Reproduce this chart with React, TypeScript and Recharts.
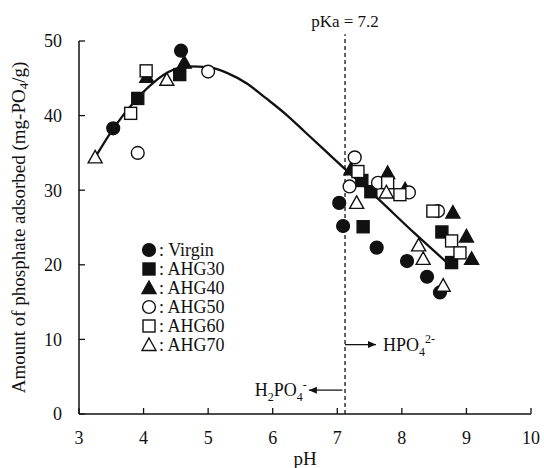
import React from "react";
import {
  ComposedChart,
  Scatter,
  Line,
  XAxis,
  YAxis,
  ReferenceLine,
  ReferenceDot,
  Label,
  Legend,
} from "recharts";

// pH vs adsorbed amount
const virgin = [
  { x: 3.53, y: 38.3 }, { x: 4.58, y: 48.7 }, { x: 7.03, y: 28.3 }, { x: 7.09, y: 25.2 },
  { x: 7.61, y: 22.3 }, { x: 8.08, y: 20.5 }, { x: 8.39, y: 18.4 }, { x: 8.59, y: 16.3 },
];
const ahg30 = [
  { x: 3.91, y: 42.3 }, { x: 4.56, y: 45.5 }, { x: 7.38, y: 31.3 }, { x: 7.52, y: 29.8 },
  { x: 7.4, y: 25.1 }, { x: 8.62, y: 24.4 }, { x: 8.77, y: 20.3 },
];
const ahg40 = [
  { x: 4.05, y: 45.2 }, { x: 4.63, y: 47.1 }, { x: 7.21, y: 32.8 }, { x: 7.78, y: 32.3 },
  { x: 8.05, y: 30.1 }, { x: 8.79, y: 27.0 }, { x: 9.0, y: 23.8 }, { x: 9.08, y: 20.8 },
];
const ahg50 = [
  { x: 3.91, y: 35.0 }, { x: 5.0, y: 45.9 }, { x: 7.27, y: 34.4 }, { x: 7.19, y: 30.5 },
  { x: 7.63, y: 31.0 }, { x: 8.11, y: 29.7 }, { x: 8.56, y: 27.2 },
];
const ahg60 = [
  { x: 3.8, y: 40.3 }, { x: 4.04, y: 46.0 }, { x: 7.32, y: 32.5 }, { x: 7.78, y: 31.0 },
  { x: 7.97, y: 29.4 }, { x: 8.48, y: 27.2 }, { x: 8.77, y: 23.2 }, { x: 8.9, y: 21.6 },
];
const ahg70 = [
  { x: 3.25, y: 34.4 }, { x: 4.36, y: 44.8 }, { x: 7.3, y: 28.3 }, { x: 7.76, y: 29.7 },
  { x: 8.26, y: 22.6 }, { x: 8.33, y: 20.8 }, { x: 8.64, y: 17.2 },
];

// fitted trend line
const fitCurve = [
  { x: 3.25, y: 34.4 }, { x: 3.55, y: 38.5 }, { x: 3.9, y: 42.3 }, { x: 4.15, y: 44.4 },
  { x: 4.4, y: 45.9 }, { x: 4.7, y: 46.6 }, { x: 5.0, y: 46.5 }, { x: 5.3, y: 45.7 },
  { x: 5.6, y: 44.3 }, { x: 5.9, y: 42.3 }, { x: 6.2, y: 40.2 }, { x: 6.5, y: 37.8 },
  { x: 6.8, y: 35.4 }, { x: 7.1, y: 33.0 }, { x: 7.6, y: 29.1 }, { x: 8.2, y: 24.2 },
  { x: 8.75, y: 19.9 },
];

const xTicks = [3, 4, 5, 6, 7, 8, 9, 10];
const yTicks = [0, 10, 20, 30, 40, 50];
const pKaX = 7.12;
const rightArrow = { from: 7.12, to: 7.6, y: 9.3 };
const leftArrow = { from: 7.08, to: 6.56, y: 3.2 };

const FONT = "Liberation Serif";
const INK = "#111";

type Kind = "circle" | "square" | "triangle";

const series: { name: string; data: { x: number; y: number }[]; kind: Kind; filled: boolean }[] = [
  { name: "Virgin", data: virgin, kind: "circle", filled: true },
  { name: "AHG30", data: ahg30, kind: "square", filled: true },
  { name: "AHG40", data: ahg40, kind: "triangle", filled: true },
  { name: "AHG50", data: ahg50, kind: "circle", filled: false },
  { name: "AHG60", data: ahg60, kind: "square", filled: false },
  { name: "AHG70", data: ahg70, kind: "triangle", filled: false },
];

function Marker({ cx, cy, kind, filled }: { cx: number; cy: number; kind: Kind; filled: boolean }) {
  const style = { fill: filled ? INK : "#fff", stroke: INK, strokeWidth: 1.4 };
  if (kind === "circle") return <circle cx={cx} cy={cy} r={6.4} {...style} />;
  if (kind === "square") return <rect x={cx - 6} y={cy - 6} width={12} height={12} {...style} />;
  return (
    <polygon
      points={`${cx},${cy - 7} ${cx + 7},${cy + 5.5} ${cx - 7},${cy + 5.5}`}
      {...style}
    />
  );
}

const makeShape = (kind: Kind, filled: boolean) => (props: any) =>
  <Marker cx={props.cx} cy={props.cy} kind={kind} filled={filled} />;

function LegendBox() {
  return (
    <svg width={130} height={125} style={{ display: "block" }}>
      {series.map((s, i) => (
        <g key={s.name}>
          <Marker cx={9} cy={10 + i * 19} kind={s.kind} filled={s.filled} />
          <text x={19} y={16 + i * 19} style={{ fontFamily: FONT }} fontSize={18} fill={INK}>
            {": " + s.name}
          </text>
        </g>
      ))}
    </svg>
  );
}

const arrowHead = (dir: number) => (props: any) => {
  const { cx, cy } = props;
  return <polygon points={`${cx},${cy} ${cx - dir * 8},${cy - 3.5} ${cx - dir * 8},${cy + 3.5}`} fill={INK} />;
};

export default function App() {
  return (
    <div style={{ position: "absolute", left: 0, top: 0, fontFamily: FONT }}>
      <ComposedChart
        width={544}
        height={468}
        margin={{ top: 41, right: 13, left: 4, bottom: 0 }}
        style={{ fontFamily: FONT }}
      >
        <XAxis
          dataKey="x"
          type="number"
          domain={[3, 10]}
          ticks={xTicks}
          interval={0}
          height={54}
          tickSize={-6}
          tickMargin={23}
          axisLine={{ stroke: INK, strokeWidth: 1.5 }}
          tickLine={{ stroke: INK, strokeWidth: 1.3 }}
          tick={{ fontFamily: FONT, fontSize: 18, fill: INK }}
        >
          <Label
            value="pH"
            position="insideBottom"
            offset={3}
            style={{ fontFamily: FONT, fontSize: 19, fill: INK }}
          />
        </XAxis>
        <YAxis
          dataKey="y"
          type="number"
          domain={[0, 50]}
          ticks={yTicks}
          interval={0}
          width={75}
          tickSize={-6}
          tickMargin={23}
          axisLine={{ stroke: INK, strokeWidth: 1.5 }}
          tickLine={{ stroke: INK, strokeWidth: 1.3 }}
          tick={{ fontFamily: FONT, fontSize: 18, fill: INK }}
        >
          <Label
            content={({ viewBox }: any) => {
              const cx = viewBox.x + 14;
              const cy = viewBox.y + viewBox.height / 2;
              return (
                <text
                  x={cx}
                  y={cy}
                  transform={`rotate(-90, ${cx}, ${cy})`}
                  textAnchor="middle"
                  dominantBaseline="central"
                  style={{ fontFamily: FONT }}
                  fontSize={19}
                  fill={INK}
                >
                  Amount of phosphate adsorbed (mg-PO
                  <tspan fontSize={13} dy={5}>4</tspan>
                  <tspan dy={-5}>/g)</tspan>
                </text>
              );
            }}
          />
        </YAxis>

        <Legend
          layout="vertical"
          align="center"
          verticalAlign="middle"
          wrapperStyle={{ left: 140, top: 240, width: 130 }}
          content={() => <LegendBox />}
        />

        <ReferenceLine
          segment={[{ x: pKaX, y: 0 }, { x: pKaX, y: 50.9 }]}
          ifOverflow="visible"
          stroke={INK}
          strokeWidth={1.3}
          strokeDasharray="4 3"
        >
          <Label
            value="pKa = 7.2"
            position="top"
            offset={7}
            style={{ fontFamily: FONT, fontSize: 17, fill: INK }}
          />
        </ReferenceLine>

        <ReferenceLine
          segment={[{ x: rightArrow.from, y: rightArrow.y }, { x: rightArrow.to, y: rightArrow.y }]}
          stroke={INK}
          strokeWidth={1.3}
        >
          <Label
            content={({ viewBox }: any) => (
              <text
                x={viewBox.x + viewBox.width + 7}
                y={viewBox.y + 6}
                style={{ fontFamily: FONT }}
                fontSize={18}
                fill={INK}
              >
                HPO
                <tspan fontSize={12} dy={5}>4</tspan>
                <tspan fontSize={12} dy={-13}>2-</tspan>
              </text>
            )}
          />
        </ReferenceLine>
        <ReferenceDot x={rightArrow.to} y={rightArrow.y} shape={arrowHead(1)} />

        <ReferenceLine
          segment={[{ x: leftArrow.from, y: leftArrow.y }, { x: leftArrow.to, y: leftArrow.y }]}
          stroke={INK}
          strokeWidth={1.3}
        >
          <Label
            content={({ viewBox }: any) => (
              <text
                x={viewBox.x - 2}
                y={viewBox.y + 6}
                textAnchor="end"
                style={{ fontFamily: FONT }}
                fontSize={18}
                fill={INK}
              >
                H<tspan fontSize={12} dy={5}>2</tspan>
                <tspan dy={-5}>PO</tspan>
                <tspan fontSize={12} dy={5}>4</tspan>
                <tspan fontSize={12} dy={-12}>-</tspan>
              </text>
            )}
          />
        </ReferenceLine>
        <ReferenceDot x={leftArrow.to} y={leftArrow.y} shape={arrowHead(-1)} />

        <Line
          data={fitCurve}
          dataKey="y"
          type="monotone"
          stroke={INK}
          strokeWidth={2.3}
          dot={false}
          activeDot={false}
          legendType="none"
          isAnimationActive={false}
        />

        {series.map((s) => (
          <Scatter
            key={s.name}
            name={s.name}
            data={s.data}
            dataKey="y"
            shape={makeShape(s.kind, s.filled)}
            isAnimationActive={false}
          />
        ))}
      </ComposedChart>
    </div>
  );
}
